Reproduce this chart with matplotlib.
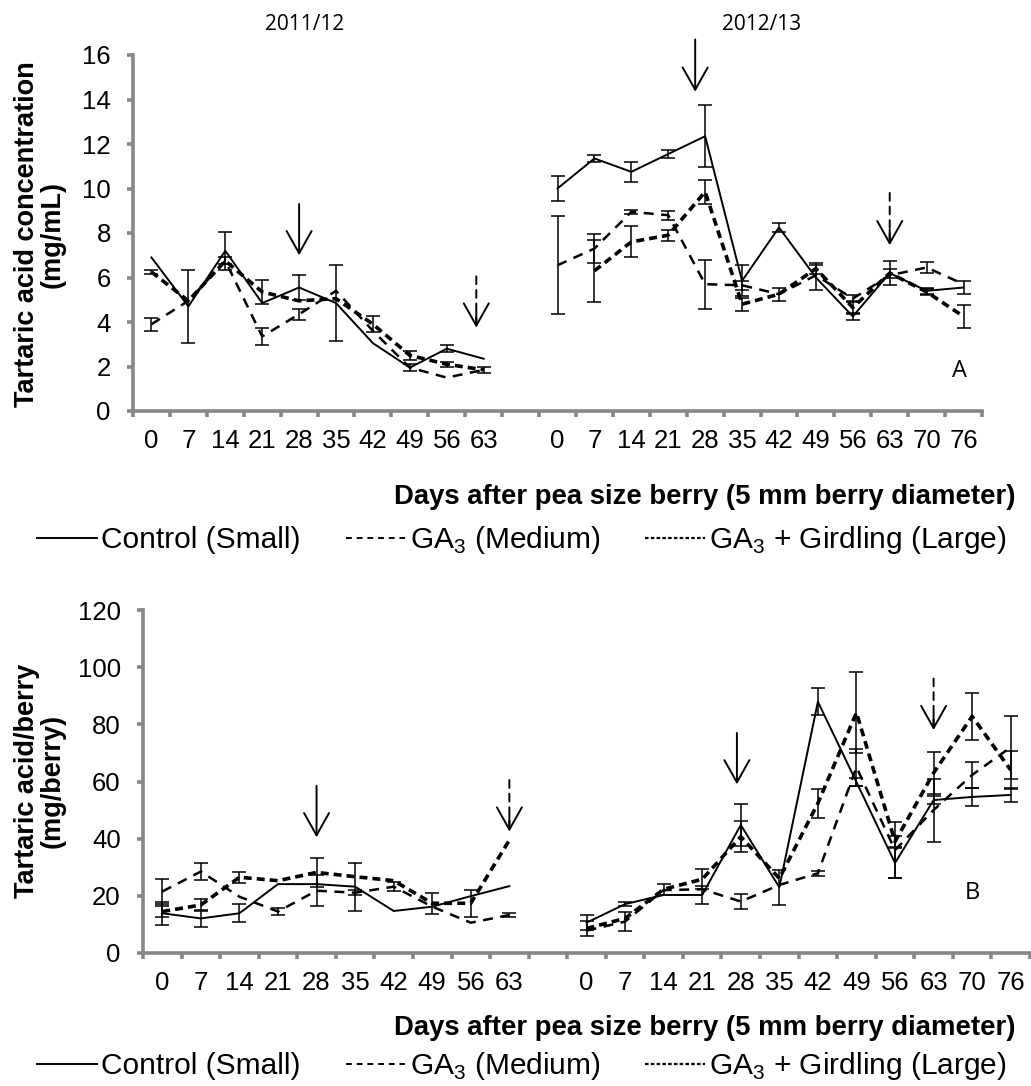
import numpy as np
import matplotlib.pyplot as plt
from matplotlib.lines import Line2D

plt.rcParams['font.family'] = ['Liberation Sans', 'DejaVu Sans']
plt.rcParams['mathtext.fontset'] = 'custom'
plt.rcParams['mathtext.rm'] = 'Liberation Sans'

# -----------------------------
# data
# -----------------------------
days_1112 = [0, 7, 14, 21, 28, 35, 42, 49, 56, 63]
days_1213 = [0, 7, 14, 21, 28, 35, 42, 49, 56, 63, 70, 76]
tick_labels = [str(d) for d in days_1112] + [''] + [str(d) for d in days_1213]

# A: tartaric acid concentration (mg/mL)
conc_ctrl_1 = [6.9, 4.7, 7.2, 4.85, 5.55, 4.85, 3.05, 1.95, 2.8, 2.35]
conc_ctrl_1_err = [0, 1.65, 0.85, 0, 0.55, 1.7, 0, 0.15, 0.15, 0]
conc_ga_1 = [3.9, 4.95, 6.75, 3.35, 4.35, 5.4, 3.6, 1.95, 1.5, 1.85]
conc_ga_1_err = [0.3, 0, 0, 0.4, 0.25, 0, 0, 0, 0, 0]
conc_gg_1 = [6.25, 4.95, 6.75, 5.35, 4.95, 5.05, 3.9, 2.5, 2.1, 1.85]
conc_gg_1_err = [0.1, 0, 0.15, 0.55, 0, 0, 0.35, 0.2, 0.1, 0.15]

conc_ctrl_2 = [10.0, 11.35, 10.75, 11.55, 12.35, 5.85, 8.25, 6.0, 4.25, 6.2, 5.4, 5.55]
conc_ctrl_2_err = [0.55, 0.15, 0.45, 0.18, 1.4, 0.7, 0.2, 0.55, 0.15, 0.55, 0.15, 0.3]
conc_ga_2 = [6.55, 7.3, 8.95, 8.8, 5.7, 5.65, 5.25, 6.1, 5.05, 6.1, 6.45, 5.7]
conc_ga_2_err = [2.2, 0.65, 0.1, 0.2, 1.1, 0.2, 0, 0, 0.15, 0, 0.25, 0]
conc_gg_2 = [np.nan, 6.3, 7.6, 7.9, 9.85, 4.8, 5.25, 6.4, 4.65, 6.2, 5.35, 4.25]
conc_gg_2_err = [0, 1.4, 0.7, 0.25, 0.55, 0.3, 0.3, 0.25, 0.3, 0.2, 0.15, 0.5]

# B: tartaric acid per berry (mg/berry)
berry_ctrl_1 = [13.9, 12.1, 13.9, 24.1, 24.1, 23.2, 14.7, 16.2, 19.9, 23.4]
berry_ctrl_1_err = [4.0, 2.9, 3.1, 0, 0, 8.4, 0, 0, 0, 0]
berry_ga_1 = [21.5, 28.5, 19.7, 14.5, 21.8, 21.1, 23.2, 16.2, 10.6, 13.3]
berry_ga_1_err = [4.3, 2.9, 0, 1.2, 5.5, 0.8, 1.6, 0, 0, 0.8]
berry_gg_1 = [14.5, 16.8, 26.5, 25.3, 28.2, 26.7, 25.3, 17.4, 17.4, 39.5]
berry_gg_1_err = [2.0, 2.0, 2.0, 0, 5.2, 0, 0, 3.7, 4.8, 0]

berry_ctrl_2 = [10.6, 17.1, 20.3, 20.3, 44.8, 23.0, 87.9, 59.8, 31.5, 53.5, 54.6, 55.3]
berry_ctrl_2_err = [2.7, 0.6, 0, 3.0, 7.5, 6.1, 4.7, 1.5, 5.3, 1.5, 3.0, 2.5]
berry_ga_2 = [7.8, 11.0, 22.0, 22.3, 18.0, 23.8, 27.9, 65.0, 36.0, 50.0, 62.3, 72.0]
berry_ga_2_err = [0, 3.4, 0, 0, 2.6, 0, 0.8, 6.5, 9.7, 11.0, 4.6, 11.0]
berry_gg_2 = [8.6, 12.1, 22.3, 25.8, 40.7, 26.1, 52.4, 84.1, 39.0, 63.0, 82.8, 64.0]
berry_gg_2_err = [2.5, 0, 2.0, 3.5, 5.5, 0, 5.0, 14.2, 2.0, 7.4, 8.3, 6.5]

# arrows: (x index, y start, y tip)
arrows_a_solid = [(4, 9.3, 7.0), (14.73, 16.7, 14.35)]
arrows_a_dash = [(8.8, 6.05, 3.75), (20, 9.8, 7.45)]
arrows_b_solid = [(4, 58.5, 40.5), (14.9, 77, 59)]
arrows_b_dash = [(9, 60.5, 42.5), (20, 96, 78)]

x_1 = np.arange(len(days_1112))
x_2 = np.arange(len(days_1112) + 1, len(tick_labels))

GREY = '#878787'
styles = {
    'ctrl': dict(color='black', lw=1.4, ls='-'),
    'ga': dict(color='black', lw=1.8, ls=(0, (4, 3))),
    'gg': dict(color='black', lw=2.6, ls=(0, (2.2, 1.4))),
}


def draw(ax, x, y, err, key):
    y = np.asarray(y, float)
    err = np.asarray(err, float)
    ax.plot(x, y, **styles[key], zorder=3)
    m = (err > 0) & np.isfinite(y)
    ax.errorbar(x[m], y[m], yerr=err[m], fmt='none', ecolor='black',
                elinewidth=1.1, capsize=5, capthick=1.1, zorder=4)


def arrows(ax, solid, dashed):
    head = '->,head_length=0.8,head_width=0.45'
    for xa, y0, y1 in solid:
        ax.annotate('', xy=(xa, y1), xytext=(xa, y0), annotation_clip=False,
                    arrowprops=dict(arrowstyle=head, lw=1.4, color='black',
                                    shrinkA=0, shrinkB=0, mutation_scale=20))
    for xa, y0, y1 in dashed:
        ax.annotate('', xy=(xa, y1), xytext=(xa, y0), annotation_clip=False,
                    arrowprops=dict(arrowstyle='-', lw=1.4, color='black',
                                    linestyle=(0, (4, 3)), shrinkA=0, shrinkB=0))
        ax.annotate('', xy=(xa, y1), xytext=(xa, y1 + (y0 - y1) * 0.3),
                    annotation_clip=False,
                    arrowprops=dict(arrowstyle=head, lw=1.4, color='black',
                                    shrinkA=0, shrinkB=0, mutation_scale=20))


def style_axes(ax, ymax, ystep):
    for s in ['top', 'right']:
        ax.spines[s].set_visible(False)
    for s in ['left', 'bottom']:
        ax.spines[s].set_color(GREY)
        ax.spines[s].set_linewidth(2.6)
    ax.set_xlim(-0.5, len(tick_labels) - 0.5)
    ax.set_ylim(0, ymax)
    ax.set_yticks(np.arange(0, ymax + 0.1, ystep))
    ax.set_xticks(np.arange(len(tick_labels)))
    ax.set_xticklabels(tick_labels)
    ax.set_xticks(np.arange(len(tick_labels) + 1) - 0.5, minor=True)
    ax.tick_params(axis='x', which='major', length=0, pad=13, labelsize=18.5)
    ax.tick_params(axis='x', which='minor', length=4, width=2.6, color=GREY)
    ax.tick_params(axis='y', length=4, width=2.6, color=GREY, pad=12, labelsize=18.5)


fig = plt.figure(figsize=(10.31, 10.86), dpi=100)
ax_a = fig.add_axes([133 / 1031, 1 - 411 / 1086, 849 / 1031, 356 / 1086])
ax_b = fig.add_axes([143 / 1031, 1 - 953 / 1086, 887 / 1031, 343 / 1086])

draw(ax_a, x_1, conc_ctrl_1, conc_ctrl_1_err, 'ctrl')
draw(ax_a, x_1, conc_ga_1, conc_ga_1_err, 'ga')
draw(ax_a, x_1, conc_gg_1, conc_gg_1_err, 'gg')
draw(ax_a, x_2, conc_ctrl_2, conc_ctrl_2_err, 'ctrl')
draw(ax_a, x_2, conc_ga_2, conc_ga_2_err, 'ga')
draw(ax_a, x_2, conc_gg_2, conc_gg_2_err, 'gg')
style_axes(ax_a, 16, 2)
arrows(ax_a, arrows_a_solid, arrows_a_dash)

draw(ax_b, x_1, berry_ctrl_1, berry_ctrl_1_err, 'ctrl')
draw(ax_b, x_1, berry_ga_1, berry_ga_1_err, 'ga')
draw(ax_b, x_1, berry_gg_1, berry_gg_1_err, 'gg')
draw(ax_b, x_2, berry_ctrl_2, berry_ctrl_2_err, 'ctrl')
draw(ax_b, x_2, berry_ga_2, berry_ga_2_err, 'ga')
draw(ax_b, x_2, berry_gg_2, berry_gg_2_err, 'gg')
style_axes(ax_b, 120, 20)
arrows(ax_b, arrows_b_solid, arrows_b_dash)

ax_a.text(21.9, 1.8, 'A', fontsize=17, family='Open Sans', ha='center', va='center')
ax_b.text(21.0, 21, 'B', fontsize=17, family='Open Sans', ha='center', va='center')

# season headings
fig.text(305 / 1031, 1 - 25 / 1086, '2011/12', fontsize=15, family='Open Sans',
         ha='center', va='center')
fig.text(762 / 1031, 1 - 25 / 1086, '2012/13', fontsize=15, family='Open Sans',
         ha='center', va='center')

# axis titles
fig.text(40 / 1031, 1 - 234 / 1086, 'Tartaric acid concentration\n(mg/mL)',
         rotation=90, fontsize=19.5, fontweight='bold', ha='center', va='center',
         multialignment='center', linespacing=1.0)
fig.text(40 / 1031, 1 - 781 / 1086, 'Tartaric acid/berry\n(mg/berry)',
         rotation=90, fontsize=19.5, fontweight='bold', ha='center', va='center',
         multialignment='center', linespacing=1.0)
xlab = 'Days after pea size berry (5 mm berry diameter)'
fig.text(1015 / 1031, 1 - 497 / 1086, xlab, fontsize=19.8, fontweight='bold',
         ha='right', va='center')
fig.text(1015 / 1031, 1 - 1028 / 1086, xlab, fontsize=19.8, fontweight='bold',
         ha='right', va='center')

handles = [
    Line2D([], [], color='black', lw=1.4, ls='-'),
    Line2D([], [], color='black', lw=1.4, ls=(0, (3, 2.5))),
    Line2D([], [], color='black', lw=1.6, ls=(0, (1.6, 1))),
]
names = ['Control (Small)', 'GA$_3$ (Medium)', 'GA$_3$ + Girdling (Large)']
for yc in [540, 1066]:
    fig.legend(handles, names, loc='center', bbox_to_anchor=(522 / 1031, 1 - yc / 1086),
               ncol=3, frameon=False, fontsize=21.5, handlelength=2.0,
               handletextpad=0.15, columnspacing=1.5, borderpad=0)

fig.savefig('out.png', dpi=100)
